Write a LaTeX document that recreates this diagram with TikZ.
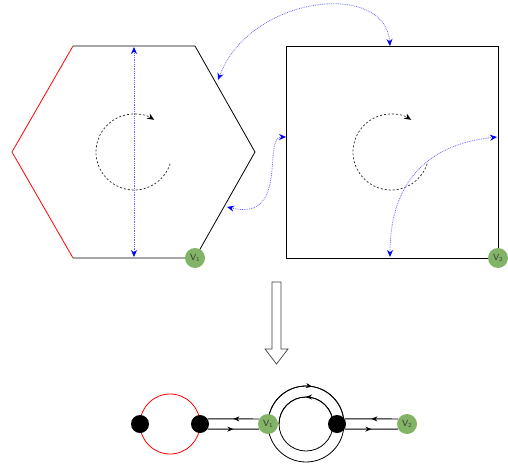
\documentclass[tikz,border=0pt]{standalone}
\usetikzlibrary{arrows.meta,decorations.markings}
\definecolor{vgreen}{HTML}{82B366}
\definecolor{lblue}{rgb}{0.4,0.4,1}
\tikzset{
  vnode/.style={circle,fill=vgreen,minimum size=20pt,inner sep=0pt,font=\sffamily\fontsize{9}{9}\selectfont,text=black!80},
  dot/.style={circle,fill=black,minimum size=18pt,inner sep=0pt},
  rot/.style={black!85,line width=0.7pt,dash pattern=on 2pt off 2pt,-{Stealth[length=7pt,width=6pt,black]}},
  bl/.style={lblue,line width=0.8pt,densely dotted,{Stealth[length=7pt,width=6pt,blue]}-{Stealth[length=7pt,width=6pt,blue]}},
  edge/.style={black,line width=0.8pt},
  midarrow/.style={line width=0.8pt,postaction=decorate,decoration={markings,mark=at position 0.5 with {\arrow{Stealth[length=6pt,width=5pt]}}}},
}
\begin{document}
\begin{tikzpicture}[x=1pt,y=-1pt]
\useasboundingbox (0,0) rectangle (508,468);
% hexagon
\coordinate (hA) at (73,46);
\coordinate (hB) at (195,46);
\coordinate (hC) at (255,152);
\coordinate (hD) at (195,258);
\coordinate (hE) at (73,258);
\coordinate (hF) at (12,152);
\draw[edge] (hA) -- (hB) -- (hC) -- (hD) -- (hE);
\draw[red,line width=0.8pt] (hE) -- (hF) -- (hA);
% square
\coordinate (sA) at (286,46);
\coordinate (sC) at (498,258);
\draw[edge] (sA) rectangle (sC);
% rotation arcs
\draw[rot] (134,152) ++(18:38) arc[start angle=18,end angle=302,radius=38];
\draw[rot] (391,152) ++(18:38) arc[start angle=18,end angle=302,radius=38];
% blue connectors
\coordinate (pt) at (134,47);
\coordinate (pb) at (134,257);
\draw[bl] (pt) -- (pb);
\coordinate (h1) at (218,80);
\coordinate (s1) at (390,46);
\draw[bl] (h1) .. controls (250,-5) and (385,-20) .. (s1);
\coordinate (h2) at (227,207);
\coordinate (s2) at (286,137);
\draw[bl] (h2) .. controls (290,222) and (262,137) .. (s2);
\coordinate (s3) at (497,137);
\coordinate (s4) at (390,257);
\draw[bl] (s3) .. controls (420,145) and (390,190) .. (s4);
% vertex labels
\node[vnode] (v1) at (hD) {V\textsubscript{1}};
\node[vnode] (v2) at (sC) {V\textsubscript{2}};
% block arrow
\draw[black!75,fill=white,line width=0.7pt] (272,282) -- (281,282) -- (281,349) -- (288,349) -- (276.5,364) -- (265,349) -- (272,349) -- cycle;
% bottom graph
\draw[red,line width=0.8pt] (170,424) circle[radius=30];
\node[dot] (d1) at (140,424) {};
\node[dot] (d2) at (200,424) {};
\draw[line width=0.8pt] (306,424) circle[radius=38];
\draw[line width=0.8pt] (306,424) circle[radius=27];
\draw[line width=0.8pt,postaction=decorate,decoration={markings,mark=at position 0.55 with {\arrow{Stealth[length=6pt,width=5pt]}}}] (268,424) arc[start angle=180,end angle=360,radius=38];
\draw[line width=0.8pt,postaction=decorate,decoration={markings,mark=at position 0.5 with {\arrow{Stealth[length=6pt,width=5pt]}}}] (333,424) arc[start angle=0,end angle=-180,radius=27];
\node[vnode] (b1) at (268,424) {V\textsubscript{1}};
\node[dot] (d3) at (337,424) {};
\node[vnode] (b2) at (407,424) {V\textsubscript{2}};
\draw[midarrow] (b1.150) -- (d2.34);
\draw[midarrow] (d2.-34) -- (b1.-150);
\draw[midarrow] (b2.150) -- (d3.34);
\draw[midarrow] (d3.-34) -- (b2.-150);
\end{tikzpicture}
\end{document}
